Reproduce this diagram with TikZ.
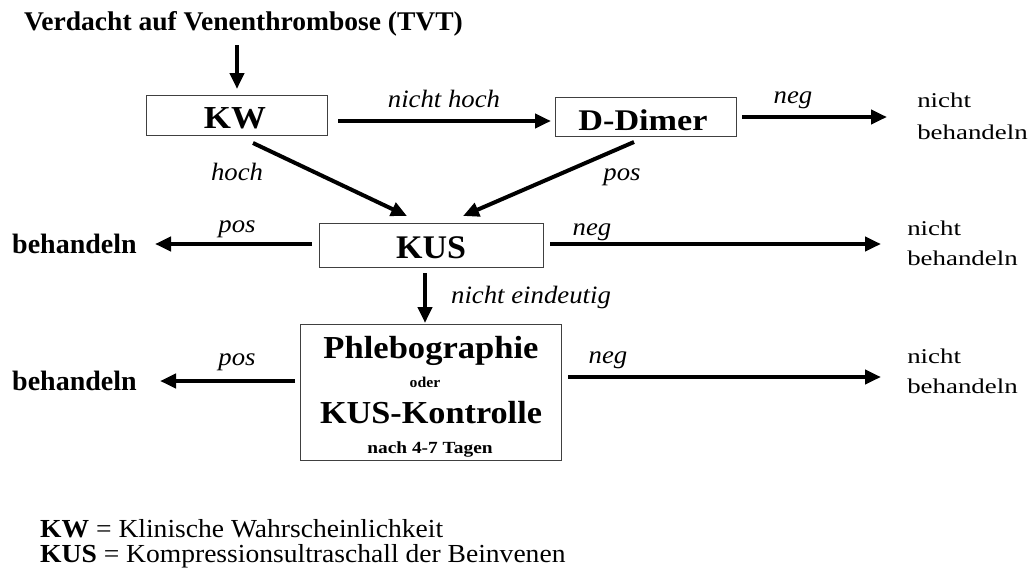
\documentclass[tikz,border=0pt]{standalone}
\usepackage{fontspec}
\setmainfont{Liberation Serif}
\usetikzlibrary{arrows.meta}
\begin{document}
\begin{tikzpicture}[x=1pt,y=-1pt,
  box/.style={draw=black!75,line width=1.2pt,inner sep=0pt,anchor=north west},
  arr/.style={line width=4pt,-{Triangle[length=16pt,width=14pt]}},
  lab/.style={font=\fontsize{25}{25}\selectfont\itshape,inner sep=0pt,anchor=base,xscale=1.07},
  res/.style={font=\fontsize{21}{21}\selectfont,inner sep=0pt,anchor=base west,xscale=1.28},
  bres/.style={font=\fontsize{28}{28}\selectfont\bfseries,inner sep=0pt,anchor=base west},
  big/.style={font=\fontsize{32}{32}\selectfont\bfseries,inner sep=0pt,anchor=base},
  small/.style={font=\fontsize{17}{17}\selectfont\bfseries,inner sep=0pt,anchor=base},
  legend/.style={font=\fontsize{26}{26}\selectfont,inner sep=0pt,anchor=base west,xscale=1.06}]
\useasboundingbox (0,0) rectangle (1035,581);
\node[font=\fontsize{27}{27}\selectfont\bfseries,inner sep=0pt,anchor=base,xscale=1.02] (title) at (243.5,30) {Verdacht auf Venenthrombose (TVT)};
% boxes
\node[box,minimum width=181pt,minimum height=40pt] (kw) at (146,95) {};
\node[big,xscale=1.09] (kwt) at (235,128) {KW};
\node[box,minimum width=181pt,minimum height=39pt] (dd) at (555,97) {};
\node[big,font=\fontsize{30}{30}\selectfont\bfseries,xscale=1.14] (ddt) at (643,130) {D-Dimer};
\node[box,minimum width=224pt,minimum height=44pt] (kus) at (319,223) {};
\node[big,font=\fontsize{33}{33}\selectfont\bfseries,xscale=1.03] (kust) at (431,258) {KUS};
\node[box,minimum width=261pt,minimum height=136pt] (ph) at (300,324) {};
\node[big,xscale=1.08] (ph1) at (431,358) {Phlebographie};
\node[small,font=\fontsize{15}{15}\selectfont\bfseries,xscale=1.05] (ph2) at (425,387) {oder};
\node[big,xscale=1.07] (ph3) at (431,423) {KUS-Kontrolle};
\node[small,xscale=1.14] (ph4) at (430,453) {nach 4-7 Tagen};
% results
\node[res] (r1a) at (917,107) {nicht};
\node[res] (r1b) at (917,139) {behandeln};
\node[bres] (b1) at (12,253) {behandeln};
\node[res] (r2a) at (907,235) {nicht};
\node[res] (r2b) at (907,265) {behandeln};
\node[bres] (b2) at (12,390) {behandeln};
\node[res] (r3a) at (907,363) {nicht};
\node[res] (r3b) at (907,393) {behandeln};
% coordinates
\coordinate (t0) at (237,45); \coordinate (t1) at (237,89);
\coordinate (a0) at (338,121); \coordinate (a1) at (551,121);
\coordinate (n0) at (742,117); \coordinate (n1) at (887,117);
\coordinate (h0) at (253,143); \coordinate (h1) at (407,216);
\coordinate (p0) at (634,142); \coordinate (p1) at (463,216);
\coordinate (k0) at (312,244); \coordinate (k1) at (155,244);
\coordinate (m0) at (550,244); \coordinate (m1) at (881,244);
\coordinate (d0) at (425,273); \coordinate (d1) at (425,323);
\coordinate (q0) at (295,381); \coordinate (q1) at (160,381);
\coordinate (s0) at (568,377); \coordinate (s1) at (881,377);
% arrows
\draw[arr] (t0) -- (t1);
\draw[arr] (a0) -- (a1);
\draw[arr] (n0) -- (n1);
\draw[arr] (h0) -- (h1);
\draw[arr] (p0) -- (p1);
\draw[arr] (k0) -- (k1);
\draw[arr] (m0) -- (m1);
\draw[arr] (d0) -- (d1);
\draw[arr] (q0) -- (q1);
\draw[arr] (s0) -- (s1);
% labels
\node[lab] (l1) at (444,107) {nicht hoch};
\node[lab] (l2) at (793,103) {neg};
\node[lab] (l3) at (237,180) {hoch};
\node[lab] (l4) at (622,180) {pos};
\node[lab] (l5) at (237,232) {pos};
\node[lab] (l6) at (592,235) {neg};
\node[lab] (l7) at (531,303) {nicht eindeutig};
\node[lab] (l8) at (237,365) {pos};
\node[lab] (l9) at (608,363) {neg};
% legend
\node[legend] (g1) at (40,537) {\textbf{KW} = Klinische Wahrscheinlichkeit};
\node[legend] (g2) at (40,562) {\textbf{KUS} = Kompressionsultraschall der Beinvenen};
\end{tikzpicture}
\end{document}
